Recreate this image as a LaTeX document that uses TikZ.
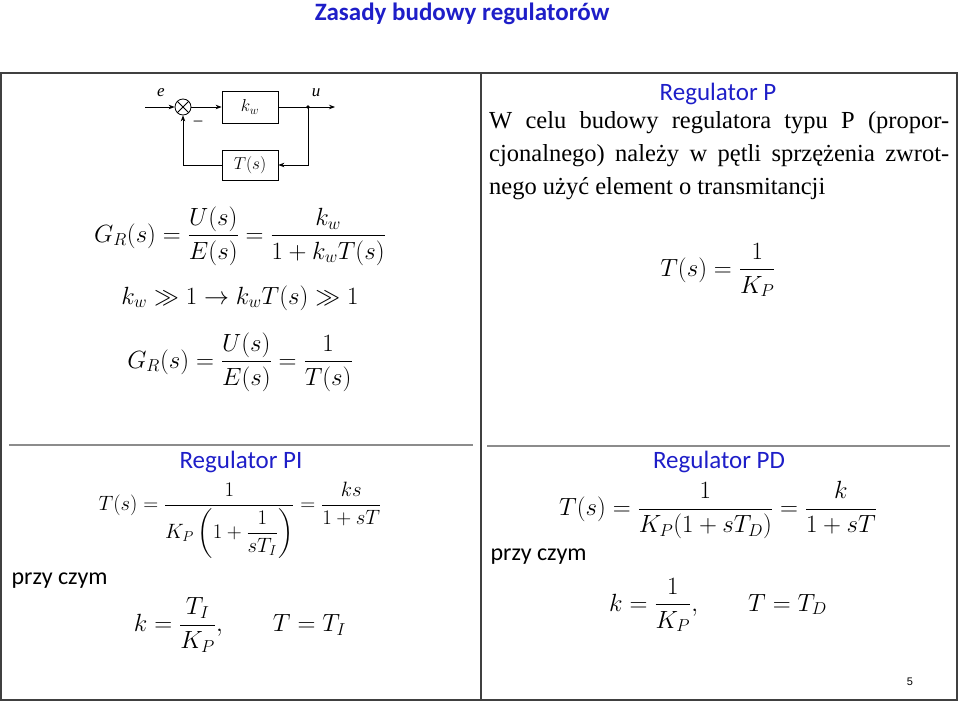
\documentclass[tikz,border=0pt]{standalone}
\usepackage{amsmath}
\usepackage{fontspec}
\setmainfont{Liberation Serif}
\newfontfamily\headfont{Carlito}
\newfontfamily\numfont{Liberation Sans}
\usetikzlibrary{arrows.meta}
\definecolor{hblue}{RGB}{30,30,200}
\begin{document}
\begin{tikzpicture}[x=1pt,y=-1pt,
  blk/.style={draw,thick,minimum width=56pt,minimum height=32pt,inner sep=0pt,font=\fontsize{18}{20}\selectfont},
  sig/.style={thick,-{Stealth[length=6pt]}},
  eq/.style={font=\fontsize{23}{27}\selectfont},
  head/.style={font=\headfont\fontsize{25}{29}\selectfont,text=hblue},
  plain/.style={font=\headfont\fontsize{24}{28}\selectfont},
  frame/.style={draw=black!75,line width=1.6pt},
  sep/.style={draw=black!45,line width=1.2pt}]
\useasboundingbox (0,0) rectangle (960,704);
\node[font=\headfont\bfseries\fontsize{25}{30}\selectfont,text=hblue] (title) at (462,14) {Zasady budowy regulatorów};
\draw[frame] (1,73) rectangle (957,700);
\draw[frame] (481,73) -- (481,700);
\draw[sep] (9,445) -- (473,445);
\draw[sep] (487,446) -- (950,446);
% block diagram
\coordinate (in) at (145,107);
\node[draw,thick,circle,minimum size=16pt,inner sep=0pt] (sum) at (183,107) {};
\draw[thick] (sum.north west) -- (sum.south east) (sum.north east) -- (sum.south west);
\node[blk] (kw) at (250,107) {$k_w$};
\node[blk,minimum height=30pt] (Ts) at (250,165) {$T(s)$};
\coordinate (j) at (308,107);
\coordinate (out) at (335,107);
\fill (j) circle (1.8pt);
\draw[sig] (in) -- (sum);
\draw[sig] (sum) -- (kw);
\draw[sig] (kw) -- (out);
\draw[sig] (j) |- (Ts);
\draw[sig] (Ts) -| (sum);
\node[font=\itshape\fontsize{17}{18}\selectfont] (e) at (161,93) {e};
\node[font=\itshape\fontsize{17}{18}\selectfont] (u) at (316,93) {u};
\node[font=\fontsize{17}{18}\selectfont] (minus) at (198,123) {--};
% left equations
\node[eq] (g1) at (240,236) {$\displaystyle G_R(s)=\frac{U(s)}{E(s)}=\frac{k_w}{1+k_wT(s)}$};
\node[eq] (g2) at (240,298) {$k_w \gg 1 \rightarrow k_wT(s)\gg 1$};
\node[eq] (g3) at (240,362) {$\displaystyle G_R(s)=\frac{U(s)}{E(s)}=\frac{1}{T(s)}$};
% right top
\node[head] (hP) at (718,94) {Regulator P};
\node[anchor=north west,text width=460pt,align=justify,inner sep=0pt,font=\fontsize{24.5}{33}\selectfont] (par) at (489,111)
 {W celu budowy regulatora typu P (propor-\linebreak cjonalnego) należy w pętli sprzężenia zwrot-\linebreak nego użyć element o transmitancji};
\node[eq] (tp) at (718,270) {$\displaystyle T(s)=\frac{1}{K_P}$};
% PI
\node[head] (hPI) at (241,462) {Regulator PI};
\node[font=\fontsize{22}{26}\selectfont] (tpi) at (240,520) {$\displaystyle T(s)=\frac{1}{K_P\left(1+\dfrac{1}{sT_I}\right)}=\frac{ks}{1+sT}$};
\node[anchor=west,plain] (pc1) at (8,581) {przy czym};
\node[eq] (kpi) at (240,625) {$\displaystyle k=\frac{T_I}{K_P},\qquad T=T_I$};
% PD
\node[head] (hPD) at (719,462) {Regulator PD};
\node[eq] (tpd) at (718,510) {$\displaystyle T(s)=\frac{1}{K_P(1+sT_D)}=\frac{k}{1+sT}$};
\node[anchor=west,plain] (pc2) at (487,557) {przy czym};
\node[eq] (kpd) at (718,605) {$\displaystyle k=\frac{1}{K_P},\qquad T=T_D$};
\node[font=\numfont\fontsize{11}{13}\selectfont] (pg) at (910,682) {5};
\end{tikzpicture}
\end{document}
